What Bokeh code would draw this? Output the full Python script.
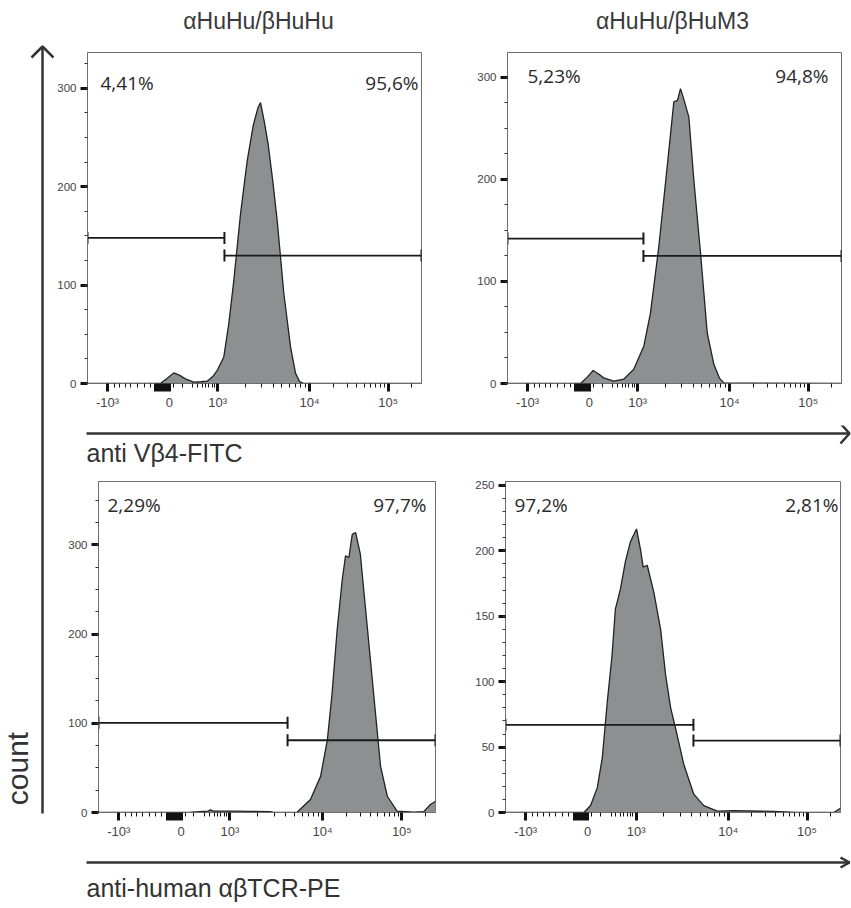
import numpy as np
from bokeh.plotting import figure
from bokeh.layouts import row, column
from bokeh.models import Range1d, FixedTicker
from bokeh.core.properties import value
from bokeh.embed import file_html
from bokeh.resources import INLINE

# ---------------- data ----------------
titles = ["αHuHu/βHuHu", "αHuHu/βHuM3"]
xname_top = "anti Vβ4-FITC"
xname_bottom = "anti-human αβTCR-PE"
yname = "count"

# biexponential display scale (0..1000 display units)
x_tick_pos = [60, 245, 390, 665, 900]
x_tick_labels = ["-10³", "0", "10³", "10⁴", "10⁵"]
x_zero_cluster = [205, 212, 219, 226, 233, 240]
x_minor_neg = [80, 97, 113, 130, 150, 170, 188]
x_minor_lin = [258, 283, 315, 328, 343, 353, 363, 373, 380]

# top-left: αHuHu/βHuHu, anti Vβ4-FITC
tl_x = [0, 218, 238, 258, 275, 293, 318, 340, 358, 375, 388, 408, 423, 438, 458,
        478, 496, 510, 518, 530, 541, 555, 568, 588, 608, 623, 635, 648, 1000]
tl_count = [0, 0, 5, 10.8, 8.5, 4.7, 1.4, 1.8, 2.4, 7, 13, 26.9, 60.6, 104.6, 172,
            226, 262, 280, 285.6, 265, 243, 205, 165.5, 91, 37, 10.3, 2, 0, 0]
tl_gate = [410, 148, 130]          # split, left-gate level, right-gate level
tl_pct = ["4,41%", "95,6%"]

# top-right: αHuHu/βHuM3, anti Vβ4-FITC
tr_x = [0, 218.6, 238, 256.5, 272, 288, 318, 348, 378, 408, 428, 453, 478, 498,
        509, 518, 528, 543, 558, 578, 598, 618, 635, 648, 1000]
tr_count = [0, 0, 6, 12.7, 9.5, 5.5, 2.3, 4.2, 13.9, 36.5, 69, 134, 212, 276,
            277.5, 289, 278.5, 261, 199, 127.7, 49.5, 18.6, 5, 0.6, 0]
tr_gate = [407, 142, 125]
tr_pct = ["5,23%", "94,8%"]

# bottom-left: αHuHu/βHuHu, anti-human αβTCR-PE
bl_x = [0, 268, 300, 325, 332, 340, 400, 450, 510, 520, 560, 590, 629, 659, 679,
        693, 708, 723, 733, 743, 753, 763, 777, 792, 807, 822, 837, 857, 886, 936,
        965, 985, 1000]
bl_count = [0, 0, 1, 1.5, 3, 1.5, 1.5, 1.2, 1, 0, 0, 0.5, 14.5, 40.5, 81,
            133, 204, 260, 287.6, 285.8, 311.8, 313.7, 289.5, 230, 170.6, 111, 51.6, 18.2, 1.5, 0.5,
            1, 9, 12.6]
bl_gate = [561, 100.5, 81]
bl_pct = ["2,29%", "97,7%"]

# bottom-right: αHuHu/βHuM3, anti-human αβTCR-PE
br_x = [0, 234, 254, 274, 289, 304, 318, 328, 343, 358, 373, 391, 403, 411, 423,
        443, 463, 478, 493, 512, 532, 562, 592, 632, 681, 801, 871, 980, 995, 1000]
br_count = [0, 0, 5.3, 19, 42, 85, 120, 155.5, 170.7, 192, 207, 216.7, 201, 187.5, 189,
            168, 140, 105, 80, 59.6, 36.9, 14, 5.3, 1, 1.5, 0.8, 0, 0, 2.5, 3]
br_gate = [561, 67, 55]
br_pct = ["97,2%", "2,81%"]

# ---------------- axis helpers ----------------
def decade_minor(a, b):
    return [a + (b - a) * np.log10(k) for k in range(2, 10)]

x_minor = (x_minor_neg + x_minor_lin + decade_minor(390, 665) + decade_minor(665, 900)
           + [900 + 235 * np.log10(2)])

FONT = "Liberation Sans"
LINE = "#333333"


def make_panel(xs, counts, ymax, y_major, y_minor_step, gate, pct, w, h, bl, br, bt, bb,
               pct_off):
    p = figure(width=w, height=h, x_range=Range1d(0, 1000), y_range=Range1d(0, ymax),
               output_backend="svg", toolbar_location=None, title=None,
               min_border_left=bl, min_border_right=br, min_border_top=bt,
               min_border_bottom=bb)
    p.grid.visible = False
    p.outline_line_color = "#6e6e6e"
    p.outline_line_width = 1
    fw = w - bl - br
    fh = h - bt - bb

    p.varea(x=xs, y1=0, y2=counts, fill_color="#8e8f91")
    p.line(xs, counts, line_color="#222222", line_width=1.3)

    split, ly, ry = gate
    p.segment(x0=[0, split], y0=[ly, ry], x1=[split, 1000], y1=[ly, ry],
              line_color="#1a1a1a", line_width=1.8)
    p.scatter(x=[0, split, split, 1000], y=[ly, ly, ry, ry], marker="dash",
              angle=np.pi / 2, size=12, line_color="#1a1a1a", line_width=2)

    (dxl, dyl), (dxr, dyr) = pct_off
    p.text(x=[dxl / fw * 1000], y=[ymax * (1 - dyl / fh)], text=[pct[0]],
           text_align="left", text_baseline="middle", text_font=value("Open Sans"),
           text_font_size="19px", text_color="#2a2a2a")
    p.text(x=[dxr / fw * 1000], y=[ymax * (1 - dyr / fh)], text=[pct[1]],
           text_align="right", text_baseline="middle", text_font=value("Open Sans"),
           text_font_size="19px", text_color="#2a2a2a")

    xa = p.xaxis[0]
    xa.ticker = FixedTicker(ticks=x_tick_pos + x_zero_cluster, minor_ticks=x_minor)
    overrides = {t: lab for t, lab in zip(x_tick_pos, x_tick_labels)}
    for t in x_zero_cluster:
        overrides[t] = ""
    xa.major_label_overrides = overrides
    xa.axis_line_color = "#6e6e6e"
    xa.major_tick_line_color = "#111111"
    xa.major_tick_line_width = 3
    xa.major_tick_out = 8
    xa.major_tick_in = 0
    xa.minor_tick_line_color = "#111111"
    xa.minor_tick_line_width = 1
    xa.minor_tick_out = 4
    xa.minor_tick_in = 0
    xa.major_label_text_font = FONT
    xa.major_label_text_font_size = "13px"
    xa.major_label_text_color = "#444444"
    xa.major_label_standoff = 3

    ya = p.yaxis[0]
    ya.ticker = FixedTicker(ticks=y_major,
                            minor_ticks=list(np.arange(0, ymax, y_minor_step)))
    ya.axis_line_color = "#6e6e6e"
    ya.major_tick_line_color = "#111111"
    ya.major_tick_line_width = 3
    ya.major_tick_out = 7
    ya.major_tick_in = 0
    ya.minor_tick_line_color = "#333333"
    ya.minor_tick_line_width = 1
    ya.minor_tick_out = 3
    ya.minor_tick_in = 0
    ya.major_label_text_font = FONT
    ya.major_label_text_font_size = "11.5px"
    ya.major_label_text_color = "#444444"
    ya.major_label_standoff = 4
    return p


LEFTW = 54
tl = make_panel(tl_x, tl_count, 336.5, [0, 100, 200, 300], 25, tl_gate, tl_pct,
                440 - LEFTW, 385, 87 - LEFTW, 19, 12, 42, ((13, 30), (331, 30)))
tr = make_panel(tr_x, tr_count, 324.4, [0, 100, 200, 300], 25, tr_gate, tr_pct,
                411, 385, 67, 10, 12, 41, ((20, 24), (321, 24)))
bl = make_panel(bl_x, bl_count, 371, [0, 100, 200, 300], 25, bl_gate, bl_pct,
                440 - LEFTW, 385, 98 - LEFTW, 5, 9, 42, ((9, 24), (328, 24)))
br = make_panel(br_x, br_count, 253, [0, 50, 100, 150, 200, 250], 10, br_gate, br_pct,
                411, 385, 65, 11, 11, 43, ((9, 23), (333, 23)))


def decor(w, h, x0, x1, y0, y1):
    p = figure(width=w, height=h, x_range=Range1d(x0, x1), y_range=Range1d(y1, y0),
               output_backend="svg", toolbar_location=None, title=None,
               x_axis_type=None, y_axis_type=None, min_border=0)
    p.grid.visible = False
    p.outline_line_color = None
    return p


# left strip: vertical "count" arrow
left = decor(LEFTW, 908, 0, LEFTW, 0, 908)
left.line([42, 42], [813, 46], line_color=LINE, line_width=2.5)
left.multi_line([[31, 42, 53], ], [[57, 46, 57], ], line_color=LINE, line_width=2.5)
left.text(x=[17], y=[768], text=[yname], angle=np.pi / 2, text_align="center",
          text_baseline="middle", text_font=value(FONT), text_font_size="30px",
          text_color="#333333")

RW = 851 - LEFTW
header = decor(RW, 40, LEFTW, 851, 0, 40)
header.text(x=[258, 672], y=[20, 20], text=titles, text_align="center",
            text_baseline="middle", text_font=value(FONT), text_font_size="23px",
            text_color="#3a3a3a")

mid = decor(RW, 45, LEFTW, 851, 425, 470)
mid.line([86, 849], [433, 433], line_color=LINE, line_width=2.5)
mid.multi_line([[840, 849, 840]], [[423, 433, 443]], line_color=LINE, line_width=2.5)
mid.text(x=[86], y=[452], text=[xname_top], text_align="left", text_baseline="middle",
         text_font=value(FONT), text_font_size="25px", text_color="#333333")

foot = decor(RW, 53, LEFTW, 851, 855, 908)
foot.line([86, 849], [862, 862], line_color=LINE, line_width=2.5)
foot.multi_line([[840, 849, 840]], [[857, 862, 867]], line_color=LINE, line_width=2.5)
foot.text(x=[86], y=[887], text=[xname_bottom], text_align="left", text_baseline="middle",
          text_font=value(FONT), text_font_size="25px", text_color="#333333")

layout = row(left, column(header, row(tl, tr), mid, row(bl, br), foot))

open("out.html", "w").write(file_html(layout, INLINE))
